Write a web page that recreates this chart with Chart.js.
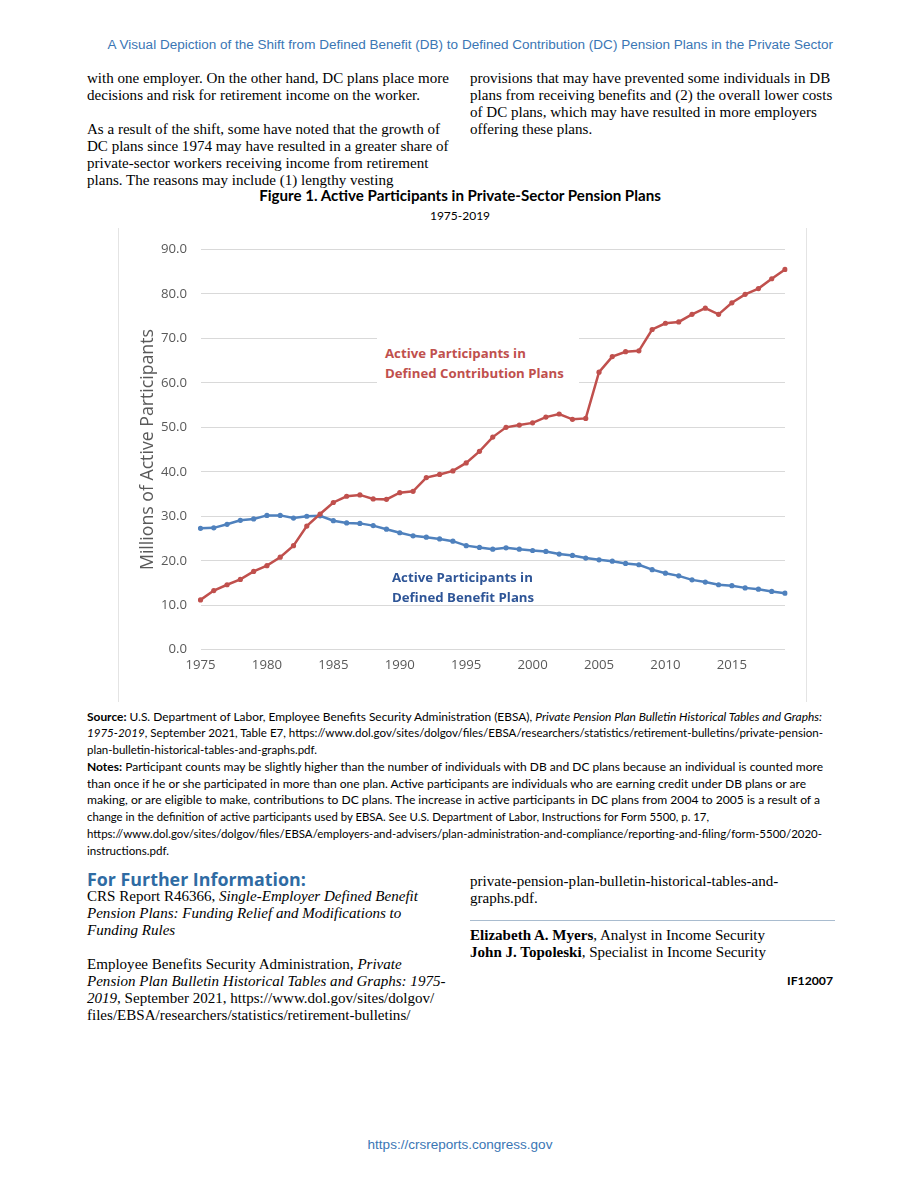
<!DOCTYPE html>
<html><head><meta charset="utf-8">
<script src="https://cdn.jsdelivr.net/npm/chart.js@4/dist/chart.umd.min.js"></script>
<style>
html,body{margin:0;padding:0;background:#fff;}
body{width:920px;height:1191px;position:relative;overflow:hidden;}
.t{position:absolute;white-space:nowrap;}
.serif{font-family:"Liberation Serif","Times New Roman",serif;font-size:14.7px;line-height:17px;color:#000;}
.src{font-family:Lato,"Open Sans",sans-serif;font-size:11px;line-height:17px;color:#000;}
.hdr{font-family:"Liberation Sans",Arial,sans-serif;font-size:12.5px;line-height:16px;color:#3A76B4;}
.sn{transform-origin:0 50%;}
#frame{position:absolute;left:118px;top:228px;width:687px;height:474px;border-left:1px solid #E4E4E4;border-right:1px solid #E4E4E4;}
#chartBox{position:absolute;left:118px;top:228px;width:688px;height:472px;}
#chartBox canvas{display:block;}
.ann{position:absolute;font-family:"Open Sans",sans-serif;font-weight:bold;line-height:20px;white-space:nowrap;}
</style></head><body>

<div class="t hdr" id="hdr" style="right:87px;top:37px;">A Visual Depiction of the Shift from Defined Benefit (DB) to Defined Contribution (DC) Pension Plans in the Private Sector</div>

<div class="t serif sl" id="bodyRef" style="left:87px;top:69.5px;">with one employer. On the other hand, DC plans place more</div>
<div class="t serif sl" style="left:87px;top:86.5px;">decisions and risk for retirement income on the worker.</div>
<div class="t serif sl" style="left:87px;top:120.5px;">As a result of the shift, some have noted that the growth of</div>
<div class="t serif sl" style="left:87px;top:137.5px;">DC plans since 1974 may have resulted in a greater share of</div>
<div class="t serif sl" style="left:87px;top:154.5px;">private-sector workers receiving income from retirement</div>
<div class="t serif sl" style="left:87px;top:171.5px;">plans. The reasons may include (1) lengthy vesting</div>

<div class="t serif sl" style="left:470px;top:69.5px;">provisions that may have prevented some individuals in DB</div>
<div class="t serif sl" style="left:470px;top:86.5px;">plans from receiving benefits and (2) the overall lower costs</div>
<div class="t serif sl" style="left:470px;top:103.5px;">of DC plans, which may have resulted in more employers</div>
<div class="t serif sl" style="left:470px;top:120.5px;">offering these plans.</div>

<div class="t src" id="figTitle" style="left:0;width:920px;text-align:center;top:186.5px;font-weight:bold;font-size:13px;"><span id="figTitleSpan">Figure 1. Active Participants in Private-Sector Pension Plans</span></div>
<div class="t src" id="figSub" style="left:0;width:920px;text-align:center;top:206.5px;font-size:12px;">1975-2019</div>

<div id="frame"></div>
<div id="chartBox"><canvas id="c" width="688" height="472"></canvas></div>

<div class="ann" id="annDC" style="left:377px;top:338px;width:202px;height:48px;background:#fff;padding-left:8px;box-sizing:border-box;color:#C0504D;">
<div style="margin-top:4.7px;"><span id="dc1">Active Participants in</span></div>
<div><span id="dc2">Defined Contribution Plans</span></div>
</div>
<div class="ann" id="annDB" style="left:392px;top:567.3px;color:#2E5597;">
<div><span id="db1">Active Participants in</span></div>
<div><span id="db2">Defined Benefit Plans</span></div>
</div>

<div class="t src sn" data-r="822" style="left:87px;top:707.5px;"><b>Source:</b> U.S. Department of Labor, Employee Benefits Security Administration (EBSA), <i>Private Pension Plan Bulletin Historical Tables and Graphs:</i></div>
<div class="t src sn" data-r="823" style="left:87px;top:724.3px;"><i>1975-2019</i>, September 2021, Table E7, https://www.dol.gov/sites/dolgov/files/EBSA/researchers/statistics/retirement-bulletins/private-pension-</div>
<div class="t src sn" data-r="317" style="left:87px;top:741px;">plan-bulletin-historical-tables-and-graphs.pdf.</div>
<div class="t src sn" id="srcRef" data-r="823" style="left:87px;top:757.8px;"><b>Notes:</b> Participant counts may be slightly higher than the number of individuals with DB and DC plans because an individual is counted more</div>
<div class="t src sn" data-r="806" style="left:87px;top:774.5px;">than once if he or she participated in more than one plan. Active participants are individuals who are earning credit under DB plans or are</div>
<div class="t src sn" data-r="820" style="left:87px;top:791.3px;">making, or are eligible to make, contributions to DC plans. The increase in active participants in DC plans from 2004 to 2005 is a result of a</div>
<div class="t src sn" data-r="709" style="left:87px;top:808px;">change in the definition of active participants used by EBSA. See U.S. Department of Labor, Instructions for Form 5500, p. 17,</div>
<div class="t src sn" data-r="822" style="left:87px;top:824.8px;">https://www.dol.gov/sites/dolgov/files/EBSA/employers-and-advisers/plan-administration-and-compliance/reporting-and-filing/form-5500/2020-</div>
<div class="t src sn" data-r="169" style="left:87px;top:841.5px;">instructions.pdf.</div>

<div class="t" id="ffi" style="left:87px;top:868px;font-family:'Open Sans',sans-serif;font-weight:bold;font-size:17px;line-height:22px;color:#2F6BA3;">For Further Information:</div>
<div class="t serif sl" style="left:87px;top:887.5px;">CRS Report R46366, <i>Single-Employer Defined Benefit</i></div>
<div class="t serif sl" style="left:87px;top:904.5px;"><i>Pension Plans: Funding Relief and Modifications to</i></div>
<div class="t serif sl" style="left:87px;top:921.5px;"><i>Funding Rules</i></div>
<div class="t serif sl" style="left:87px;top:955.5px;">Employee Benefits Security Administration, <i>Private</i></div>
<div class="t serif sl" style="left:87px;top:972.5px;"><i>Pension Plan Bulletin Historical Tables and Graphs: 1975-</i></div>
<div class="t serif sl" style="left:87px;top:989.5px;"><i>2019</i>, September 2021, https://www.dol.gov/sites/dolgov/</div>
<div class="t serif sl" style="left:87px;top:1006.5px;">files/EBSA/researchers/statistics/retirement-bulletins/</div>

<div class="t serif sl" style="left:470px;top:872.5px;">private-pension-plan-bulletin-historical-tables-and-</div>
<div class="t serif sl" style="left:470px;top:889.5px;">graphs.pdf.</div>
<div style="position:absolute;left:470px;top:920px;width:365px;height:1px;background:#A9BCCF;"></div>
<div class="t serif sl" style="left:470px;top:926.5px;"><b>Elizabeth A. Myers</b>, Analyst in Income Security</div>
<div class="t serif sl" style="left:470px;top:943.5px;"><b>John J. Topoleski</b>, Specialist in Income Security</div>
<div class="t src" id="ifnum" style="right:87px;top:971.5px;font-weight:bold;font-size:12px;">IF12007</div>

<div class="t hdr" id="ftr" style="left:0;width:920px;text-align:center;top:1137px;">https://crsreports.congress.gov</div>

<script>
// ---- data ----
const years = ['1975','1976','1977','1978','1979','1980','1981','1982','1983','1984',
  '1985','1986','1987','1988','1989','1990','1991','1992','1993','1994',
  '1995','1996','1997','1998','1999','2000','2001','2002','2003','2004',
  '2005','2006','2007','2008','2009','2010','2011','2012','2013','2014',
  '2015','2016','2017','2018','2019'];
const dcParticipants = [11.2,13.3,14.6,15.8,17.6,18.9,20.8,23.4,27.8,30.5,
  33.1,34.5,34.8,33.9,33.8,35.3,35.6,38.7,39.4,40.2,
  42.0,44.6,47.8,50.0,50.5,51.0,52.3,53.0,51.8,52.0,
  62.4,65.9,67.0,67.2,72.0,73.4,73.7,75.4,76.8,75.4,
  78.0,79.9,81.2,83.4,85.5];
const dbParticipants = [27.3,27.4,28.2,29.1,29.4,30.2,30.2,29.6,30.0,30.1,
  29.0,28.5,28.4,27.9,27.1,26.3,25.6,25.3,24.9,24.4,
  23.4,23.0,22.6,22.9,22.6,22.3,22.1,21.5,21.2,20.6,
  20.2,19.9,19.4,19.1,18.0,17.2,16.6,15.7,15.2,14.6,
  14.4,13.9,13.6,13.1,12.7];
const xTickLabels = ['1975','1980','1985','1990','1995','2000','2005','2010','2015'];
const yMin = 0, yMax = 90, yStep = 10;
const yTitle = 'Millions of Active Participants';

// ---- text fitting helpers ----
function scaleGroup(refEl, target, els){
  const w = refEl.getBoundingClientRect().width;
  const fs = parseFloat(getComputedStyle(refEl).fontSize);
  const nfs = fs * target / w;
  els.forEach(e => e.style.fontSize = nfs + 'px');
}
scaleGroup(document.getElementById('hdr'), 726, [document.getElementById('hdr'), document.getElementById('ftr')]);
scaleGroup(document.getElementById('bodyRef'), 362, Array.from(document.querySelectorAll('.sl')));
scaleGroup(document.getElementById('srcRef'), 736, Array.from(document.querySelectorAll('.sn')));
document.querySelectorAll('.sn').forEach(e => {
  const w = e.getBoundingClientRect().width;
  const target = parseFloat(e.dataset.r) - 87;
  e.style.transform = 'scaleX(' + (target / w) + ')';
});
scaleGroup(document.getElementById('figTitleSpan'), 402, [document.getElementById('figTitle')]);
scaleGroup(document.getElementById('ffi'), 219, [document.getElementById('ffi')]);
scaleGroup(document.getElementById('ifnum'), 46, [document.getElementById('ifnum')]);
scaleGroup(document.getElementById('dc1'), 141, [document.getElementById('annDC')]);
scaleGroup(document.getElementById('db1'), 141, [document.getElementById('annDB')]);

// ---- chart ----
const mctx = document.createElement('canvas').getContext('2d');
mctx.font = '15px "Open Sans"';
const titleSize = 15 * 241 / mctx.measureText(yTitle).width;
const titleLH = titleSize * 1.2;

new Chart(document.getElementById('c'), {
  type: 'line',
  data: {
    labels: years,
    datasets: [
      {label: 'Active Participants in Defined Contribution Plans', data: dcParticipants,
       borderColor: '#C0504D', backgroundColor: '#C0504D', borderWidth: 2.5,
       pointRadius: 2.6, pointHoverRadius: 2.6, pointBorderWidth: 0, tension: 0},
      {label: 'Active Participants in Defined Benefit Plans', data: dbParticipants,
       borderColor: '#4F81BD', backgroundColor: '#4F81BD', borderWidth: 2.5,
       pointRadius: 2.6, pointHoverRadius: 2.6, pointBorderWidth: 0, tension: 0}
    ]
  },
  options: {
    responsive: false, animation: false,
    layout: {padding: {left: 0, right: 21, top: 17, bottom: 0}},
    plugins: {legend: {display: false}, tooltip: {enabled: false}},
    scales: {
      x: {
        type: 'category', offset: false,
        grid: {display: false, drawTicks: false}, border: {display: false},
        ticks: {autoSkip: false, maxRotation: 0, minRotation: 0, padding: 8, color: '#595959',
          font: {family: 'Open Sans', size: 13.2},
          callback: function(v){ const l = this.getLabelForValue(v); return xTickLabels.includes(l) ? l : ''; }},
        afterFit: s => { s.height = 50.3; }
      },
      y: {
        min: yMin, max: yMax,
        grid: {color: '#D9D9D9', lineWidth: 1, drawTicks: false}, border: {display: false},
        ticks: {stepSize: yStep, padding: 13.5, color: '#595959', font: {family: 'Open Sans', size: 13.2},
          callback: v => Number(v).toFixed(1)},
        title: {display: true, text: yTitle, color: '#595959',
          font: {family: 'Open Sans', size: titleSize, lineHeight: 1.2},
          padding: {top: 30 - titleLH/2, bottom: 0}},
        afterFit: s => { s.width = 82.5; }
      }
    }
  }
});
</script>
</body></html>
